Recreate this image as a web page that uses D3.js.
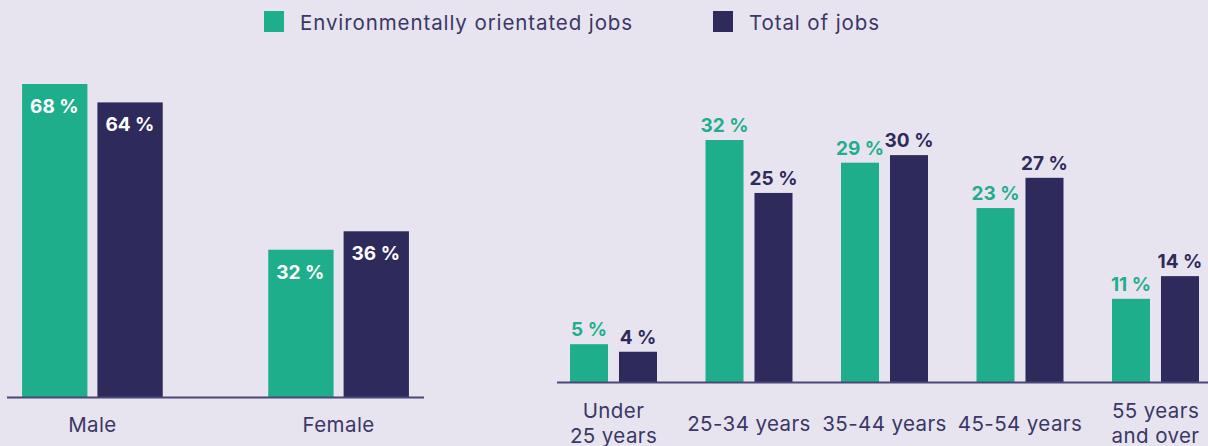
<!DOCTYPE html>
<html>
<head>
<meta charset="utf-8">
<script src="https://cdn.jsdelivr.net/npm/d3@7"></script>
<style>
  html, body { margin: 0; padding: 0; background: #e7e4ef; }
  svg { display: block; }
  text { font-family: Inter, "Open Sans", sans-serif; }
</style>
</head>
<body>
<div id="chart"></div>
<script>
// ---- data ----
const seriesNames = ["Environmentally orientated jobs", "Total of jobs"];
const seriesKeys = ["env", "total"];
const seriesColors = ["#1fae8c", "#2f2a5c"];

const genderCategories = ["Male", "Female"];
const genderEnv = [68, 32];
const genderTotal = [64, 36];

const ageCategories = ["Under\n25 years", "25-34 years", "35-44 years", "45-54 years", "55 years\nand over"];
const ageEnv = [5, 32, 29, 23, 11];
const ageTotal = [4, 25, 30, 27, 14];

// ---- setup ----
const W = 1208, H = 446;
const textColor = "#3b3766";
const axisColor = "#4b4777";
const catFont = 20.5;
const valFont = 19;

const svg = d3.select("#chart").append("svg")
  .attr("width", W).attr("height", H);
svg.append("rect").attr("width", W).attr("height", H).attr("fill", "#e7e4ef");

const color = d3.scaleOrdinal().domain(seriesKeys).range(seriesColors);

// ---- legend ----
const legendX = [264, 713];
const legend = svg.append("g");
seriesKeys.forEach((k, i) => {
  const g = legend.append("g").attr("transform", `translate(${legendX[i]},0)`);
  g.append("rect").attr("x", 0).attr("y", 11).attr("width", 20).attr("height", 21).attr("fill", color(k));
  g.append("text").attr("x", 36).attr("y", 30).attr("font-size", catFont)
    .attr("letter-spacing", 0.9)
    .attr("fill", textColor).text(seriesNames[i]);
});

// ---- generic grouped bar panel ----
function panel(opts) {
  const { cats, env, total, xRange, yBase, pxPerUnit, pInner, pOuter, subPad, labelInside, singleY, multiY } = opts;
  const data = cats.map((c, i) => ({ cat: c, env: env[i], total: total[i] }));
  const x0 = d3.scaleBand().domain(cats).range(xRange).paddingInner(pInner).paddingOuter(pOuter);
  const x1 = d3.scaleBand().domain(seriesKeys).range([0, x0.bandwidth()]).paddingInner(subPad);
  const y = d3.scaleLinear().domain([0, 100]).range([yBase, yBase - 100 * pxPerUnit]);

  const g = svg.append("g");
  const groups = g.selectAll("g.grp").data(data).join("g")
    .attr("transform", d => `translate(${x0(d.cat)},0)`);

  groups.selectAll("rect").data(d => seriesKeys.map(k => ({ key: k, value: d[k] }))).join("rect")
    .attr("x", d => x1(d.key))
    .attr("y", d => y(d.value))
    .attr("width", x1.bandwidth())
    .attr("height", d => y(0) - y(d.value))
    .attr("fill", d => color(d.key));

  groups.selectAll("text.val").data(d => seriesKeys.map(k => ({ key: k, value: d[k] }))).join("text")
    .attr("class", "val")
    .attr("font-weight", 700)
    .attr("font-size", valFont)
    .each(function (d) {
      const t = d3.select(this);
      if (labelInside) {
        t.attr("x", x1(d.key) + 8).attr("y", y(d.value) + 29).attr("fill", "#ffffff");
      } else {
        t.attr("x", x1(d.key) + x1.bandwidth() / 2).attr("y", y(d.value) - 8)
          .attr("text-anchor", "middle").attr("fill", color(d.key));
      }
    })
    .text(d => d.value + " %");

  // axis line
  g.append("line")
    .attr("x1", xRange[0]).attr("x2", xRange[1])
    .attr("y1", y(0) + 0.5).attr("y2", y(0) + 0.5)
    .attr("stroke", axisColor).attr("stroke-width", 2);

  // category labels
  const xAxis = d3.axisBottom(x0).tickSize(0).tickPadding(0);
  const ax = g.append("g").attr("transform", `translate(0,${y(0)})`).call(xAxis);
  ax.select(".domain").remove();
  ax.selectAll(".tick text").each(function (d) {
    const t = d3.select(this);
    const lines = d.split("\n");
    t.text(null).attr("y", null).attr("dy", null)
      .attr("font-size", catFont).attr("fill", textColor)
      .attr("letter-spacing", 0.4)
      .attr("font-family", "Inter, 'Open Sans', sans-serif");
    if (lines.length === 1) {
      t.append("tspan").attr("x", 0).attr("y", singleY).text(lines[0]);
    } else {
      lines.forEach((l, i) => t.append("tspan").attr("x", 0).attr("y", multiY[i]).text(l));
    }
  });
}

panel({
  cats: genderCategories, env: genderEnv, total: genderTotal,
  xRange: [7, 424], yBase: 397, pxPerUnit: 313 / 68,
  pInner: 0.4286, pOuter: 0.0612, subPad: 0.133, labelInside: true,
  singleY: 34.5, multiY: [22, 46]
});

panel({
  cats: ageCategories, env: ageEnv, total: ageTotal,
  xRange: [557, 1212], yBase: 382, pxPerUnit: 242 / 32,
  pInner: 0.358, pOuter: 0.096, subPad: 0.224, labelInside: false,
  singleY: 49, multiY: [36, 60.5]
});
</script>
</body>
</html>
